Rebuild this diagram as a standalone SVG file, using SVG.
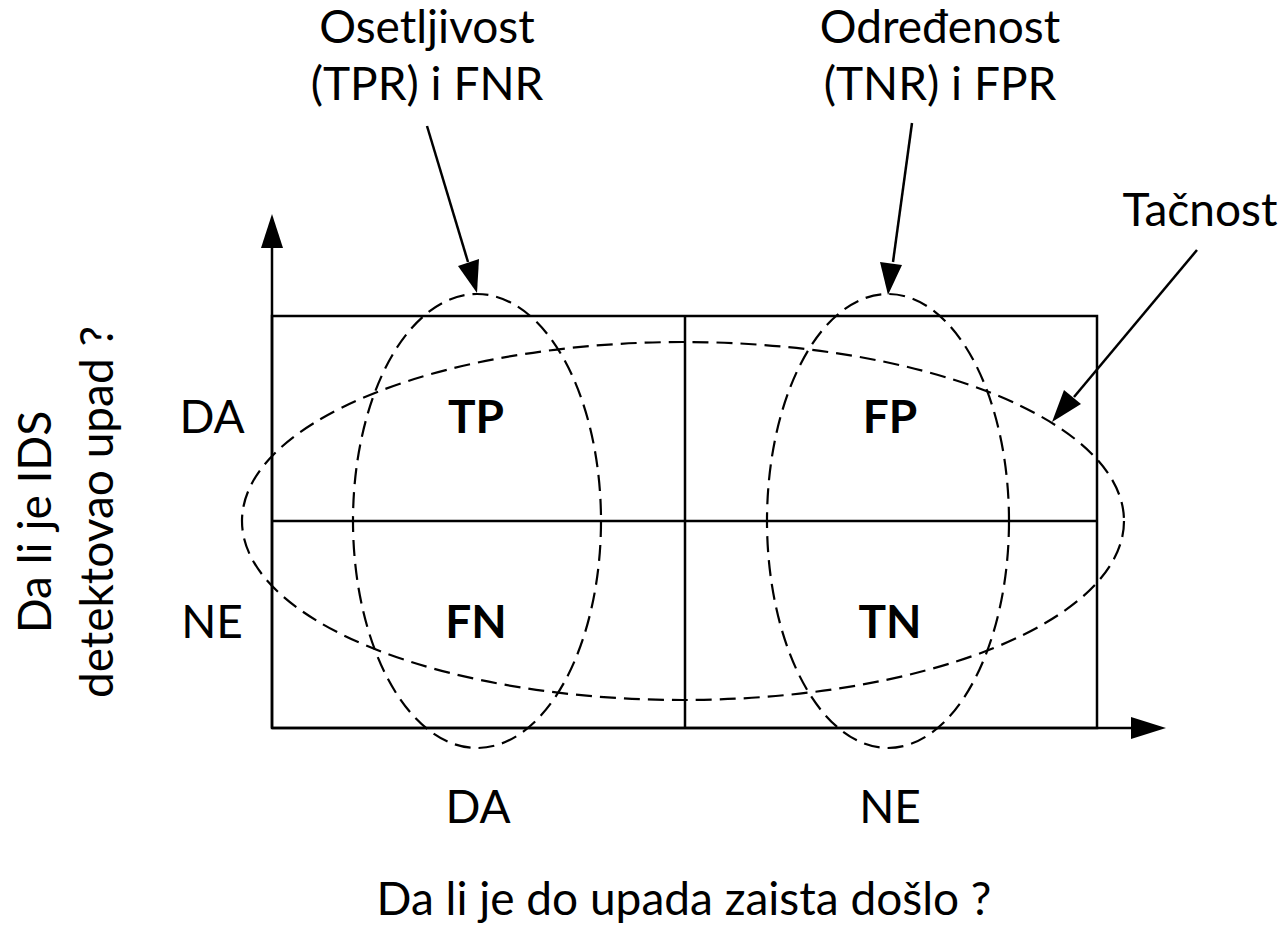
<svg xmlns="http://www.w3.org/2000/svg" width="1286" height="927" viewBox="0 0 1286 927">
<defs>
<style>
text{font-family:Lato,"Open Sans","Liberation Sans",sans-serif;font-size:46px;fill:#000;text-anchor:middle}
.b{font-weight:bold}
.ln{stroke:#000;stroke-width:2.5;fill:none}
.ds{stroke:#000;stroke-width:2.2;fill:none;stroke-dasharray:16 8}
</style>
</defs>
<rect width="1286" height="927" fill="#fff"/>
<g id="grid">
<rect x="272" y="316" width="825" height="412" class="ln"/>
<line x1="272" y1="521" x2="1097" y2="521" class="ln"/>
<line x1="685" y1="316" x2="685" y2="728" class="ln"/>
</g>
<g id="axes">
<line x1="272" y1="728" x2="272" y2="245" class="ln"/>
<path d="M272,214 L283,248 L261,248 z"/>
<line x1="272" y1="728" x2="1132" y2="728" class="ln"/>
<path d="M1166,728 L1131,717 L1131,739 z"/>
</g>
<g id="ellipses">
<ellipse id="sens" cx="477" cy="521" rx="124" ry="227" class="ds"/>
<ellipse id="spec" cx="888" cy="521" rx="121" ry="227" class="ds"/>
<ellipse id="acc" cx="683" cy="521" rx="441" ry="179" class="ds"/>
</g>
<g id="connectors">
<line x1="427" y1="126" x2="468" y2="262" class="ln"/>
<path d="M477,293 L458,266 L479,259 z"/>
<line x1="912" y1="123" x2="893" y2="262" class="ln"/>
<path d="M888,295 L880,262 L902,265 z"/>
<line x1="1197" y1="250" x2="1074" y2="397" class="ln"/>
<path d="M1052,422 L1064,390 L1081,404 z"/>
</g>
<g id="labels">
<text x="427" y="43">Osetljivost</text>
<text x="427" y="100">(TPR) i FNR</text>
<text x="940" y="43">Određenost</text>
<text x="940" y="100">(TNR) i FPR</text>
<text x="1200" y="226">Tačnost</text>
<text x="212" y="433">DA</text>
<text x="212" y="638">NE</text>
<text x="478" y="823">DA</text>
<text x="890" y="823">NE</text>
<text x="684" y="915">Da li je do upada zaista došlo ?</text>
<text transform="translate(51,522) rotate(-90)">Da li je IDS</text>
<text transform="translate(113,512) rotate(-90)">detektovao upad ?</text>
</g>
<g id="cells">
<text x="476" y="433" class="b">TP</text>
<text x="890" y="433" class="b">FP</text>
<text x="476" y="638" class="b">FN</text>
<text x="890" y="638" class="b">TN</text>
</g>
</svg>
